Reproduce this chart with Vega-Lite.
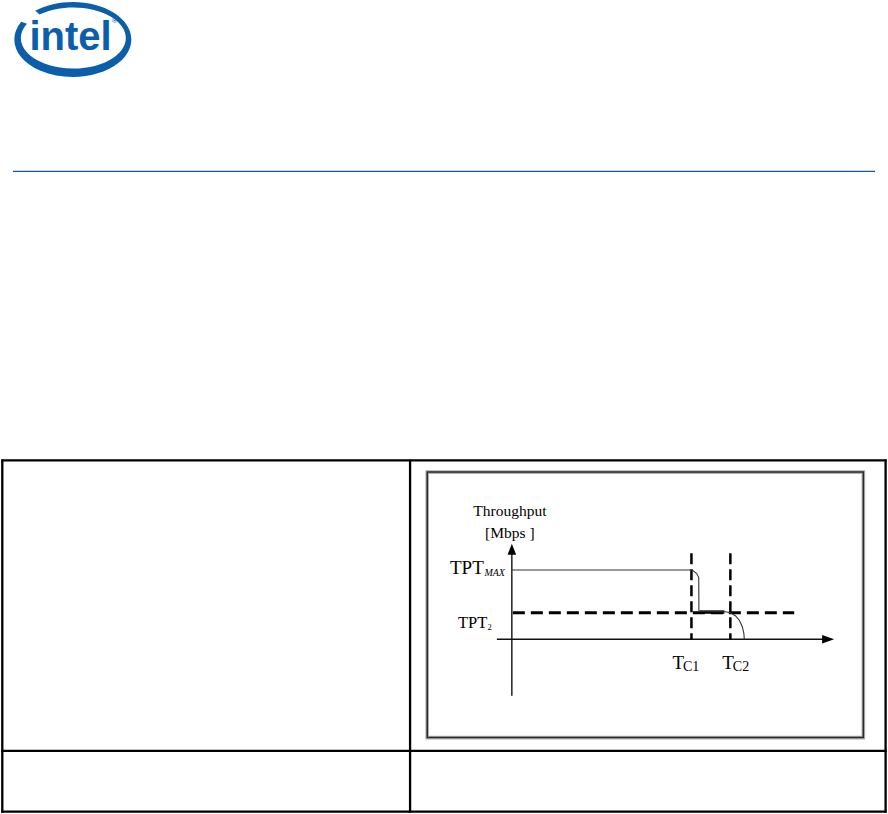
{
  "$schema": "https://vega.github.io/schema/vega-lite/v6.json",
  "width": 888,
  "height": 814,
  "autosize": {"type": "fit", "contains": "padding"},
  "padding": 0,
  "background": "white",
  "config": {"view": {"stroke": null}},
  "encoding": {
    "x": {"field": "x", "type": "quantitative", "scale": {"domain": [0, 888], "nice": false, "zero": false}, "axis": null},
    "y": {"field": "y", "type": "quantitative", "scale": {"domain": [0, 814], "nice": false, "zero": false, "reverse": true}, "axis": null}
  },
  "layer": [
    {
      "data": {"values": [{"part": "swoosh", "x": 72, "y": 39.5}]},
      "mark": {"type": "point", "shape": "M -51.65 -17.61 A 58.5 37.5 0 1 0 -37.6 -28.73 L -33.25 -24.86 A 52.5 30.5 0 1 1 -45.85 -15.82 Z", "size": 4, "filled": true, "fill": "#0b5ea9", "opacity": 1, "strokeWidth": 0}
    },
    {
      "data": {"values": [{"t": "intel", "x": 28.5, "y": 50}]},
      "mark": {"type": "text", "font": "Liberation Sans", "fontWeight": "bold", "fontSize": 40, "align": "left", "baseline": "alphabetic", "color": "#0b5ea9"},
      "encoding": {"text": {"field": "t"}}
    },
    {
      "data": {"values": [{"t": "®", "x": 114, "y": 23}]},
      "mark": {"type": "text", "font": "Liberation Sans", "fontSize": 8, "align": "center", "baseline": "alphabetic", "color": "#0b5ea9"},
      "encoding": {"text": {"field": "t"}}
    },
    {
      "data": {"values": [{"x": 12, "x2": 876, "y": 171.5}]},
      "mark": {"type": "rule", "color": "#1a5796", "strokeWidth": 1.3},
      "encoding": {"x2": {"field": "x2"}}
    },
    {
      "data": {"values": [
        {"edge": "top", "x": 0.3, "x2": 887.7, "y": 461, "y2": 461},
        {"edge": "row", "x": 0.3, "x2": 887.7, "y": 751.7, "y2": 751.7},
        {"edge": "bottom", "x": 0.3, "x2": 887.7, "y": 812.7, "y2": 812.7},
        {"edge": "left", "x": 1.3, "x2": 1.3, "y": 460, "y2": 813.8},
        {"edge": "middle", "x": 410, "x2": 410, "y": 460, "y2": 813.8},
        {"edge": "right", "x": 886.6, "x2": 886.6, "y": 460, "y2": 813.8}
      ]},
      "mark": {"type": "rule", "color": "#000000", "strokeWidth": 2.3},
      "encoding": {"x2": {"field": "x2"}, "y2": {"field": "y2"}}
    },
    {
      "data": {"values": [{"x": 427.2, "x2": 864.3, "y": 472.7, "y2": 738.5}]},
      "mark": {"type": "rect", "fill": "transparent", "stroke": "#b0b0b0", "strokeWidth": 3.6},
      "encoding": {"x2": {"field": "x2"}, "y2": {"field": "y2"}}
    },
    {
      "data": {"values": [{"x": 427.2, "x2": 864.3, "y": 472.7, "y2": 738.5}]},
      "mark": {"type": "rect", "fill": "transparent", "stroke": "#2a2a2a", "strokeWidth": 1.5},
      "encoding": {"x2": {"field": "x2"}, "y2": {"field": "y2"}}
    },
    {
      "data": {"values": [
        {"axis": "throughput", "x": 512, "x2": 512, "y": 552, "y2": 696.5},
        {"axis": "time", "x": 497, "x2": 826, "y": 640, "y2": 640}
      ]},
      "mark": {"type": "rule", "color": "#111111", "strokeWidth": 1.4},
      "encoding": {"x2": {"field": "x2"}, "y2": {"field": "y2"}}
    },
    {
      "data": {"values": [{"x": 512, "y": 550}]},
      "mark": {"type": "point", "shape": "M 0 -5.5 L 4.3 5.5 L -4.3 5.5 Z", "size": 4, "filled": true, "fill": "#000000", "opacity": 1, "strokeWidth": 0}
    },
    {
      "data": {"values": [{"x": 829, "y": 640}]},
      "mark": {"type": "point", "shape": "M 6 0 L -6 -4.2 L -6 4.2 Z", "size": 4, "filled": true, "fill": "#000000", "opacity": 1, "strokeWidth": 0}
    },
    {
      "data": {"values": [{"level": "TPT2", "x": 513, "x2": 795, "y": 613.5}]},
      "mark": {"type": "rule", "color": "#000000", "strokeWidth": 3, "strokeDash": [12, 6]},
      "encoding": {"x2": {"field": "x2"}}
    },
    {
      "data": {"values": [
        {"time": "TC1", "x": 692, "y": 554, "y2": 640},
        {"time": "TC2", "x": 731, "y": 554, "y2": 640}
      ]},
      "mark": {"type": "rule", "color": "#000000", "strokeWidth": 2.5, "strokeDash": [11, 5]},
      "encoding": {"y2": {"field": "y2"}}
    },
    {
      "data": {"values": [{"x": 700, "x2": 725, "y": 612.8}]},
      "mark": {"type": "rule", "color": "#000000", "strokeWidth": 3.4},
      "encoding": {"x2": {"field": "x2"}}
    },
    {
      "data": {"values": [
        {"i": 1, "x": 512, "y": 570.7},
        {"i": 2, "x": 692.7, "y": 570.7},
        {"i": 3, "x": 697, "y": 574},
        {"i": 4, "x": 699.3, "y": 578},
        {"i": 5, "x": 699.5, "y": 612.3},
        {"i": 6, "x": 726, "y": 612.5},
        {"i": 7, "x": 731, "y": 613.5},
        {"i": 8, "x": 736, "y": 616.5},
        {"i": 9, "x": 740, "y": 621},
        {"i": 10, "x": 743, "y": 627.5},
        {"i": 11, "x": 744.5, "y": 634},
        {"i": 12, "x": 745, "y": 640}
      ]},
      "mark": {"type": "line", "color": "#333333", "strokeWidth": 1.1, "interpolate": "linear"},
      "encoding": {"order": {"field": "i", "type": "quantitative"}}
    },
    {
      "data": {"values": [
        {"t": "Throughput", "x": 510, "y": 516.5},
        {"t": "[Mbps ]", "x": 510, "y": 538.5}
      ]},
      "mark": {"type": "text", "font": "Liberation Serif", "fontSize": 15.5, "align": "center", "baseline": "alphabetic", "color": "#000000"},
      "encoding": {"text": {"field": "t"}}
    },
    {
      "data": {"values": [{"t": "TPT", "x": 450, "y": 575}]},
      "mark": {"type": "text", "font": "Liberation Serif", "fontSize": 19, "align": "left", "baseline": "alphabetic", "color": "#000000"},
      "encoding": {"text": {"field": "t"}}
    },
    {
      "data": {"values": [{"t": "MAX", "x": 484.5, "y": 576.5}]},
      "mark": {"type": "text", "font": "Liberation Serif", "fontSize": 10, "fontStyle": "italic", "align": "left", "baseline": "alphabetic", "color": "#000000"},
      "encoding": {"text": {"field": "t"}}
    },
    {
      "data": {"values": [{"t": "TPT", "x": 458, "y": 629}]},
      "mark": {"type": "text", "font": "Liberation Serif", "fontSize": 16.5, "align": "left", "baseline": "alphabetic", "color": "#000000"},
      "encoding": {"text": {"field": "t"}}
    },
    {
      "data": {"values": [{"t": "2", "x": 487.5, "y": 631}]},
      "mark": {"type": "text", "font": "Liberation Serif", "fontSize": 8.5, "align": "left", "baseline": "alphabetic", "color": "#000000"},
      "encoding": {"text": {"field": "t"}}
    },
    {
      "data": {"values": [
        {"t": "T", "x": 673, "y": 670},
        {"t": "T", "x": 723, "y": 670}
      ]},
      "mark": {"type": "text", "font": "Liberation Serif", "fontSize": 19, "align": "left", "baseline": "alphabetic", "color": "#000000"},
      "encoding": {"text": {"field": "t"}}
    },
    {
      "data": {"values": [
        {"t": "C1", "x": 683.5, "y": 671.8},
        {"t": "C2", "x": 733.5, "y": 671.8}
      ]},
      "mark": {"type": "text", "font": "Liberation Serif", "fontSize": 14, "align": "left", "baseline": "alphabetic", "color": "#000000"},
      "encoding": {"text": {"field": "t"}}
    }
  ]
}
